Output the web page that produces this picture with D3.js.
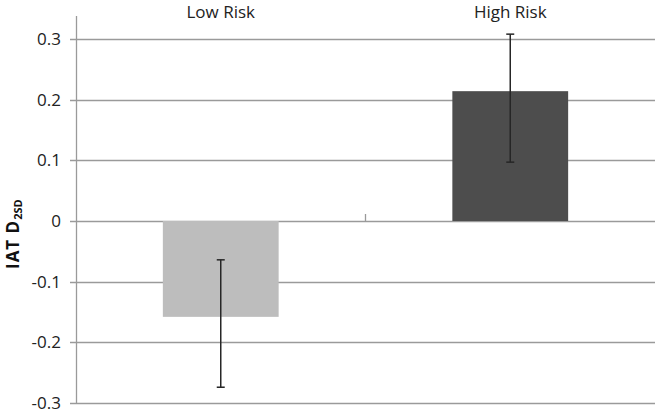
<!DOCTYPE html>
<html>
<head>
<meta charset="utf-8">
<script src="https://cdn.jsdelivr.net/npm/d3@7"></script>
<style>
  body { margin: 0; background: #fff; }
  text { font-family: "Open Sans", "Noto Sans", sans-serif; }
</style>
</head>
<body>
<div id="chart"></div>
<script>
const categories = ['Low Risk', 'High Risk'];
const means = [-0.158, 0.214];
const errLow = [-0.274, 0.097];
const errHigh = [-0.064, 0.308];
const yTicks = [-0.3, -0.2, -0.1, 0, 0.1, 0.2, 0.3];
const yTickLabels = ['-0.3', '-0.2', '-0.1', '0', '0.1', '0.2', '0.3'];

const width = 661;
const height = 413;
const margin = { top: 39, right: 6, bottom: 10, left: 76 };

const svg = d3.select('#chart')
  .append('svg')
  .attr('width', width)
  .attr('height', height);

const x = d3.scaleBand()
  .domain(categories)
  .range([margin.left, width - margin.right])
  .paddingInner(0.6)
  .paddingOuter(0.3);

const y = d3.scaleLinear()
  .domain([-0.3, 0.3])
  .range([403, 39]);

// gridlines
svg.append('g')
  .selectAll('line')
  .data(yTicks)
  .enter().append('line')
  .attr('x1', margin.left - 6)
  .attr('x2', width - margin.right)
  .attr('y1', d => Math.round(y(d)) + 0.5)
  .attr('y2', d => Math.round(y(d)) + 0.5)
  .attr('stroke', '#9a9a9a')
  .attr('stroke-width', 1.3);

// y axis line
svg.append('line')
  .attr('x1', margin.left + 0.5)
  .attr('x2', margin.left + 0.5)
  .attr('y1', 16)
  .attr('y2', 403)
  .attr('stroke', '#9a9a9a')
  .attr('stroke-width', 1.3);

// tick labels
svg.append('g')
  .selectAll('text')
  .data(yTicks)
  .enter().append('text')
  .attr('x', 61)
  .attr('y', d => y(d))
  .attr('dy', '0.36em')
  .attr('text-anchor', 'end')
  .attr('font-size', 17)
  .attr('fill', '#222')
  .text((d, i) => yTickLabels[i]);

// category divider tick at zero
const mid = (x(categories[0]) + x.bandwidth() + x(categories[1])) / 2;
svg.append('line')
  .attr('x1', mid).attr('x2', mid)
  .attr('y1', y(0) - 7).attr('y2', y(0))
  .attr('stroke', '#9a9a9a')
  .attr('stroke-width', 1.3);

// bars
const colors = ['#bdbdbd', '#4d4d4d'];
svg.append('g')
  .selectAll('rect')
  .data(categories)
  .enter().append('rect')
  .attr('x', d => x(d))
  .attr('width', x.bandwidth())
  .attr('y', (d, i) => y(Math.max(0, means[i])))
  .attr('height', (d, i) => Math.abs(y(means[i]) - y(0)))
  .attr('fill', (d, i) => colors[i]);

// error bars
const eb = svg.append('g')
  .selectAll('g')
  .data(categories)
  .enter().append('g')
  .attr('stroke', '#262626')
  .attr('stroke-width', 1.5);

eb.append('line')
  .attr('x1', d => x(d) + x.bandwidth() / 2)
  .attr('x2', d => x(d) + x.bandwidth() / 2)
  .attr('y1', (d, i) => y(errLow[i]))
  .attr('y2', (d, i) => y(errHigh[i]));

eb.append('line')
  .attr('x1', d => x(d) + x.bandwidth() / 2 - 4)
  .attr('x2', d => x(d) + x.bandwidth() / 2 + 4)
  .attr('y1', (d, i) => y(errLow[i]))
  .attr('y2', (d, i) => y(errLow[i]));

eb.append('line')
  .attr('x1', d => x(d) + x.bandwidth() / 2 - 4)
  .attr('x2', d => x(d) + x.bandwidth() / 2 + 4)
  .attr('y1', (d, i) => y(errHigh[i]))
  .attr('y2', (d, i) => y(errHigh[i]));

// category labels on top
svg.append('g')
  .selectAll('text')
  .data(categories)
  .enter().append('text')
  .attr('x', d => x(d) + x.bandwidth() / 2)
  .attr('y', 18)
  .attr('text-anchor', 'middle')
  .attr('font-size', 17)
  .attr('fill', '#222')
  .text(d => d);

// y title
const title = svg.append('text')
  .attr('transform', `translate(19,269) rotate(-90)`)
  .attr('text-anchor', 'start')
  .attr('font-size', 17)
  .attr('font-weight', 'bold')
  .attr('letter-spacing', 1)
  .attr('fill', '#111');
title.append('tspan').text('IAT D');
title.append('tspan').attr('font-size', 11).attr('dy', 3).attr('letter-spacing', 0).text('2SD');
</script>
</body>
</html>
